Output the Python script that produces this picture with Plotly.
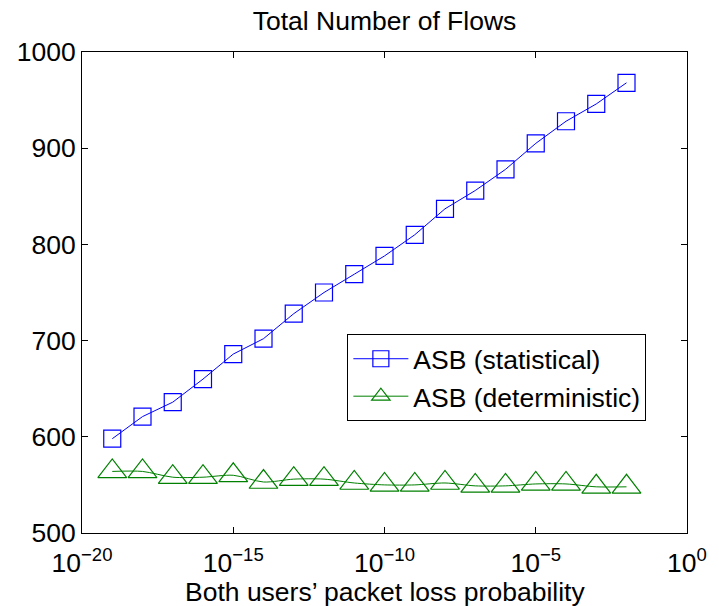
import plotly.graph_objects as go

# Data
x_loss = [1e-19, 1e-18, 1e-17, 1e-16, 1e-15, 1e-14, 1e-13, 1e-12, 1e-11,
          1e-10, 1e-9, 1e-8, 1e-7, 1e-6, 1e-5, 1e-4, 1e-3, 1e-2]
asb_statistical = [598, 621, 636, 660, 686, 702, 728, 750, 769,
                   788, 810, 837, 856, 878, 905, 928, 946, 968]
asb_deterministic = [564, 564, 558, 558, 560, 553, 556, 556, 552,
                     550, 550, 552, 549, 549, 551, 551, 548, 548]

x_tickvals = [1e-20, 1e-15, 1e-10, 1e-5, 1]
x_ticktext = ["10<sup>\u221220</sup>", "10<sup>\u221215</sup>", "10<sup>\u221210</sup>",
              "10<sup>\u22125</sup>", "10<sup>0</sup>"]
y_tickvals = [500, 600, 700, 800, 900, 1000]

FONT = "Liberation Sans, Arial, Helvetica, sans-serif"
FS = 26.5

fig = go.Figure()
fig.add_trace(go.Scatter(
    x=x_loss, y=asb_statistical, mode="lines+markers", name="ASB (statistical)",
    line=dict(color="#0000FF", width=1),
    marker=dict(symbol="square-open", size=17, color="#0000FF", line=dict(width=1.2, color="#0000FF")),
))
fig.add_trace(go.Scatter(
    x=x_loss, y=asb_deterministic, mode="lines+markers", name="ASB (deterministic)",
    line=dict(color="#008000", width=1, shape="spline", smoothing=0.8),
    marker=dict(symbol="triangle-up-open", size=25, color="#008000", line=dict(width=1.2, color="#008000")),
))

fig.update_layout(
    width=719, height=606,
    margin=dict(l=82, r=26, t=52, b=73),
    paper_bgcolor="white", plot_bgcolor="white",
    font=dict(family=FONT, size=FS, color="black"),
    title=dict(text="Total Number of Flows", x=0.5, xref="paper", xanchor="center",
               y=1 - 21 / 606, yref="container", yanchor="middle",
               font=dict(family=FONT, size=FS, color="black")),
    showlegend=True,
    legend=dict(x=(350 - 82) / 611, y=(533 - 334) / 481, xanchor="left", yanchor="top",
                bordercolor="black", borderwidth=1, bgcolor="white",
                font=dict(family=FONT, size=FS, color="black"),
                itemwidth=55, itemsizing="trace", tracegroupgap=0),
    xaxis=dict(type="log", range=[-20, 0], tickvals=x_tickvals, ticktext=x_ticktext,
               showline=True, mirror="ticks", linecolor="black", linewidth=1,
               ticks="inside", ticklen=6, tickcolor="black", showgrid=False, zeroline=False,
               ticklabelstandoff=6,
               tickfont=dict(family=FONT, size=FS, color="black")),
    yaxis=dict(range=[500, 1000], tickvals=y_tickvals,
               showline=True, mirror="ticks", linecolor="black", linewidth=1,
               ticks="inside", ticklen=6, tickcolor="black", showgrid=False, zeroline=False,
               tickfont=dict(family=FONT, size=FS, color="black")),
    annotations=[dict(text="Both users\u2019 packet loss probability", x=0.5, xref="paper",
                      y=-(592 - 533) / 481, yref="paper", xanchor="center", yanchor="middle",
                      showarrow=False, font=dict(family=FONT, size=FS, color="black"))],
)

fig.write_html("out.html")
